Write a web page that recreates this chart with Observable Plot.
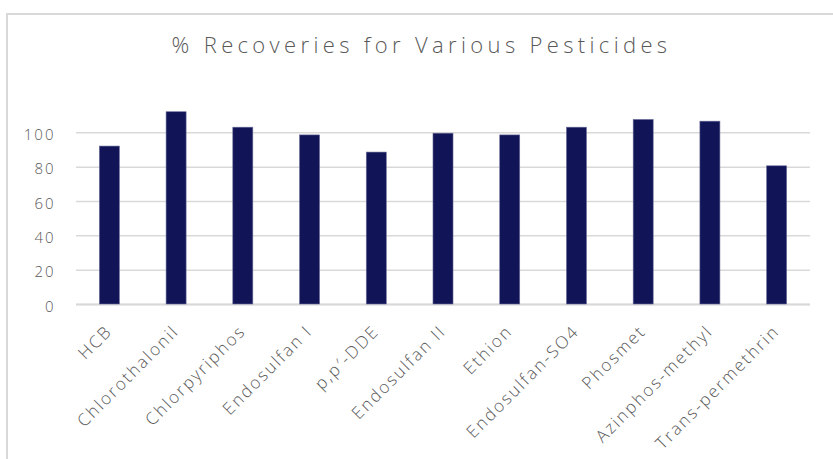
<!DOCTYPE html>
<html>
<head>
<meta charset="utf-8">
<script src="https://cdn.jsdelivr.net/npm/d3@7"></script>
<script src="https://cdn.jsdelivr.net/npm/@observablehq/plot@0.6"></script>
<style>
  html, body { margin: 0; padding: 0; background: #fff; }
  #wrap { position: relative; width: 833px; height: 459px; overflow: hidden; font-family: "Open Sans", Lato, sans-serif; }
  #frame { position: absolute; left: 6px; top: 13px; width: 900px; height: 600px; border-left: 2.5px solid #d9d9d9; border-top: 2.5px solid #d9d9d9; box-sizing: border-box; }
  #title { position: absolute; left: 5px; width: 833px; top: 33px; line-height: 22px; text-align: center; font-size: 22px; letter-spacing: 4.35px; color: #595959; font-weight: 300; white-space: nowrap; }
  #title span { display: inline-block; }
  #chart { position: absolute; left: 0; top: 70px; width: 833px; }
</style>
</head>
<body>
<div id="wrap">
  <div id="frame"></div>
  <div id="title"><span>% Recoveries for Various Pesticides</span></div>
  <div id="chart"></div>
</div>
<script>
const pesticides = ["HCB", "Chlorothalonil", "Chlorpyriphos", "Endosulfan I", "p,p\u2032-DDE", "Endosulfan II", "Ethion", "Endosulfan-SO4", "Phosmet", "Azinphos-methyl", "Trans-permethrin"];
const recoveries = [92, 112, 103, 98.5, 88.5, 99.5, 98.5, 103, 107.5, 106.5, 80.5];
const yTicks = [0, 20, 40, 60, 80, 100];

const data = pesticides.map((name, i) => ({name, value: recoveries[i]}));

const chart = Plot.plot({
  width: 833,
  height: 389,
  marginLeft: 76,
  marginRight: 23,
  marginTop: 28,
  marginBottom: 155,
  style: {fontFamily: "'Open Sans', Lato, sans-serif", color: "#595959", background: "transparent", maxWidth: "none"},
  x: {domain: pesticides, paddingInner: 0.7, paddingOuter: 0.35, round: false, label: null},
  y: {domain: [0, 120], label: null},
  marks: [
    Plot.gridY(yTicks, {stroke: "#d9d9d9", strokeOpacity: 1, strokeWidth: 1.5}),
    Plot.ruleY([0], {stroke: "#d9d9d9", strokeWidth: 2}),
    Plot.barY(data, {x: "name", y: "value", fill: "#111558", stroke: "#6a6c98", strokeWidth: 0.6}),
    Plot.axisY(yTicks, {tickSize: 0, tickPadding: 21, dy: 2.4, fill: "#595959", fontSize: 15}),
    Plot.axisX({tickSize: 0, tickPadding: 24, dx: -0.5, tickRotate: -45, fill: "#595959", fontSize: 17})
  ]
});
d3.select(chart).selectAll("text")
  .style("font-family", "'Open Sans', Lato, sans-serif")
  .style("font-weight", "300")
  .style("letter-spacing", "2px")
  .style("fill", "#595959");
document.getElementById("chart").appendChild(chart);
</script>
</body>
</html>
